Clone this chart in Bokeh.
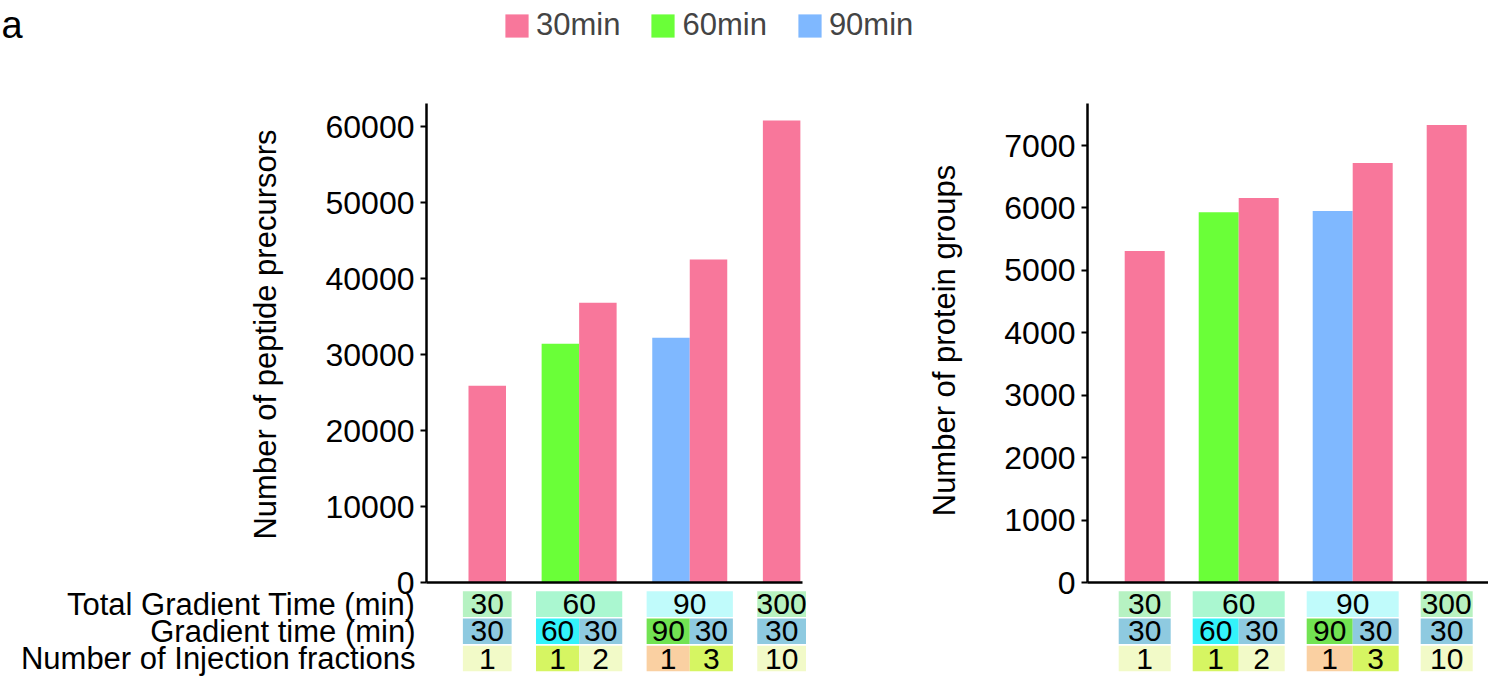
import math
from bokeh.plotting import figure
from bokeh.layouts import row
from bokeh.models import Range1d, FixedTicker, Legend, LegendItem
from bokeh.embed import file_html
from bokeh.resources import INLINE
from bokeh.core.properties import value

# ---------------- data ----------------
total_gradient_time = ["30", "60", "90", "300"]
total_time_colors = ["#B6F2C2", "#AAF7D0", "#C0FBFB", "#B8F2C0"]
bar_group = [0, 1, 1, 2, 2, 3]
bar_series = ["30min", "60min", "30min", "90min", "30min", "30min"]
gradient_time = ["30", "60", "30", "90", "30", "30"]
injection_fractions = ["1", "1", "2", "1", "3", "10"]
fraction_colors = ["#F2FAC8", "#D6F562", "#F2FAC8", "#FAD0A2", "#D6F562", "#F2FAC8"]
peptide_precursors = [25900, 31400, 36800, 32200, 42500, 60800]
protein_groups = [5310, 5930, 6160, 5950, 6720, 7330]
series_names = ["30min", "60min", "90min"]
series_colors = ["#F8779B", "#6AFF38", "#7FB8FF"]
gradient_colors = {"30": "#8ECAE0", "60": "#33F3FA", "90": "#72E352"}
row_labels = ["Total Gradient Time (min)", "Gradient time (min)", "Number of Injection fractions"]
peptide_ticks = [0, 10000, 20000, 30000, 40000, 50000, 60000]
protein_ticks = [0, 1000, 2000, 3000, 4000, 5000, 6000, 7000]

FONT = "Liberation Sans"
H = 677
AXIS_TOP = 103     # top end of the y axis rule (px)
ZERO = 582         # pixel row of y = 0
ROW_TOP = 590      # pixel row where the table starts
ROW_PX = 27.2      # table row pitch


def positions(gap):
    return [k + g * gap + 0.5 for k, g in enumerate(bar_group)]


def make_chart(values, ticks, top_tick_px, ylabel, ylabel_center, width, axis_px, unit_px,
               gap, pad_l, axis_end_px, with_extras):
    xs = positions(gap)
    x0 = -pad_l                                   # data x of the y axis
    x_start = x0 - axis_px / unit_px
    x_end = x0 + (width - axis_px) / unit_px
    per_px = ticks[-1] / (ZERO - top_tick_px)
    y_start = -(H - ZERO) * per_px
    y_end = ZERO * per_px

    def dx(px):  # canvas px -> data x
        return x0 + (px - axis_px) / unit_px

    def dy(py):  # canvas px -> data y
        return (ZERO - py) * per_px

    p = figure(width=width, height=H,
               x_range=Range1d(x_start, x_end), y_range=Range1d(y_start, y_end),
               output_backend="svg", toolbar_location=None, title=None,
               min_border=0, min_border_left=0, min_border_right=0,
               min_border_top=0, min_border_bottom=0)
    p.extra_y_ranges = {"tbl": Range1d(-(H - ROW_TOP) / ROW_PX, ROW_TOP / ROW_PX)}
    p.outline_line_color = None
    p.grid.visible = False

    colors = [series_colors[series_names.index(s)] for s in bar_series]
    r = p.vbar(x=xs, top=values, width=1.0, bottom=0, fill_color=colors, line_color=None)

    yax = p.yaxis[0]
    yax.fixed_location = x0
    yax.ticker = FixedTicker(ticks=ticks)
    yax.bounds = (0, dy(AXIS_TOP))
    yax.minor_tick_line_color = None
    yax.major_tick_in = 0
    yax.major_tick_out = 6
    yax.major_tick_line_width = 2
    yax.axis_line_width = 2.5
    yax.axis_line_color = "black"
    yax.major_label_standoff = 6
    yax.major_label_text_font = FONT
    yax.major_label_text_font_size = "32px"
    yax.major_label_text_color = "black"

    xax = p.xaxis[0]
    xax.fixed_location = 0
    xax.bounds = (x0, dx(axis_end_px))
    xax.ticker = FixedTicker(ticks=[])
    xax.major_tick_in = 0
    xax.major_tick_out = 0
    xax.minor_tick_line_color = None
    xax.major_label_standoff = 0
    xax.axis_line_width = 2.5
    xax.axis_line_color = "black"

    # y axis title
    p.text(x=[dx(ylabel_center[0])], y=[dy(ylabel_center[1])], text=[ylabel], angle=math.pi / 2,
           text_align="center", text_baseline="middle",
           text_font=value(FONT), text_font_size="31px", text_color="black")

    # ---- table under the bars ----
    pad = 0.15
    gl, gr = [], []
    for g in range(len(total_gradient_time)):
        members = [xs[k] for k in range(len(xs)) if bar_group[k] == g]
        gl.append(min(members) - 0.5 - pad)
        gr.append(max(members) + 0.5 + pad)
    gc = [(a + b) / 2 for a, b in zip(gl, gr)]
    n = len(gl)
    p.quad(left=gl, right=gr, top=[-0.03] * n, bottom=[-0.97] * n,
           fill_color=total_time_colors, line_color=None, y_range_name="tbl")
    p.text(x=gc, y=[-0.5] * n, text=total_gradient_time, text_align="center", text_baseline="middle",
           text_font=value(FONT), text_font_size="30px", text_color="black", y_range_name="tbl")

    sl, sr = [], []
    for k, x in enumerate(xs):
        first = k == 0 or bar_group[k - 1] != bar_group[k]
        last = k == len(xs) - 1 or bar_group[k + 1] != bar_group[k]
        sl.append(x - 0.5 - (pad if first else 0))
        sr.append(x + 0.5 + (pad if last else 0))
    sc = [(a + b) / 2 for a, b in zip(sl, sr)]
    m = len(sl)
    p.quad(left=sl, right=sr, top=[-1.03] * m, bottom=[-1.97] * m,
           fill_color=[gradient_colors[v] for v in gradient_time], line_color=None, y_range_name="tbl")
    p.text(x=sc, y=[-1.5] * m, text=gradient_time, text_align="center", text_baseline="middle",
           text_font=value(FONT), text_font_size="30px", text_color="black", y_range_name="tbl")
    p.quad(left=sl, right=sr, top=[-2.03] * m, bottom=[-2.97] * m,
           fill_color=fraction_colors, line_color=None, y_range_name="tbl")
    p.text(x=sc, y=[-2.5] * m, text=injection_fractions, text_align="center", text_baseline="middle",
           text_font=value(FONT), text_font_size="30px", text_color="black", y_range_name="tbl")

    if with_extras:
        p.text(x=[dx(415)] * 3, y=[-0.5, -1.5, -2.5], text=row_labels,
               text_align="right", text_baseline="middle", y_range_name="tbl",
               text_font=value(FONT), text_font_size="31px", text_color="black")
        items = [LegendItem(label=s, renderers=[r], index=bar_series.index(s)) for s in series_names]
        legend = Legend(items=items, orientation="horizontal", location=(502, H - 43),
                        glyph_width=29, glyph_height=29, label_standoff=5, spacing=28,
                        padding=0, margin=0, border_line_color=None, background_fill_alpha=0,
                        label_text_font=FONT, label_text_font_size="31px")
        p.add_layout(legend)
        p.text(x=[dx(1)], y=[dy(24)], text=["a"], text_align="left", text_baseline="middle",
               text_font=value(FONT), text_font_size="38px", text_color="black")
    return p


left = make_chart(peptide_precursors, peptide_ticks, 126, "Number of peptide precursors", (265, 334),
                  920, 426, 37.5, 0.95, 1.12, 802, True)
right = make_chart(protein_groups, protein_ticks, 145, "Number of protein groups", (944 - 920, 340),
                   568, 1087 - 920, 40.0, 0.85, 0.93, 568, False)

layout = row(left, right, spacing=0)
open("out.html", "w").write(file_html(layout, INLINE))
